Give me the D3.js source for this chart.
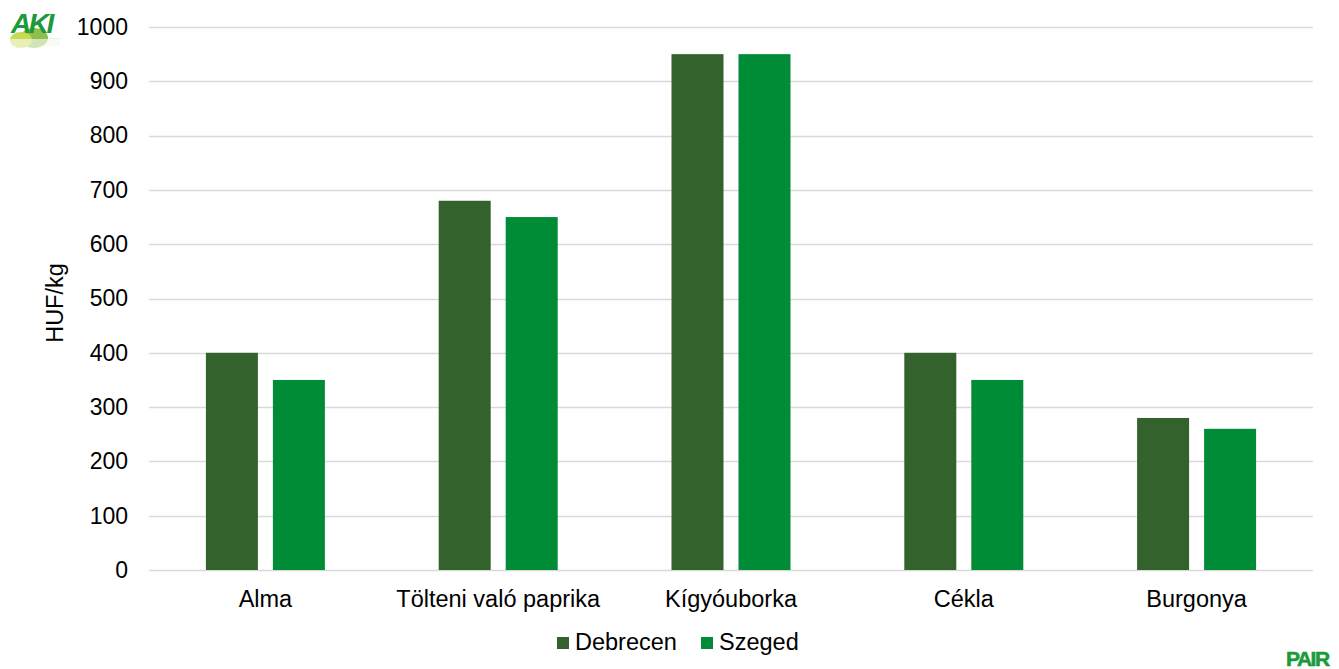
<!DOCTYPE html>
<html><head><meta charset="utf-8">
<script src="https://cdn.jsdelivr.net/npm/d3@7"></script>
<style>body{margin:0;background:#fff;} svg{display:block;font-family:"Liberation Sans",Arial,sans-serif;}</style>
</head><body>
<svg id="c" width="1339" height="669"></svg>
<script>
const categories = ["Alma","Tölteni való paprika","Kígyóuborka","Cékla","Burgonya"];
const seriesNames = ["Debrecen","Szeged"];
const debrecen = [400,680,950,400,280];
const szeged = [350,650,950,350,260];
const yTicks = [0,100,200,300,400,500,600,700,800,900,1000];
const colors = ["#34622c","#008c36"];

(function(){
const svg = d3.select("#c");
const mLeft = 149, mRight = 1313, mTop = 27, mBottom = 570;
const FS = 23.5;
const x = d3.scaleBand().domain(categories).range([mLeft,mRight]).paddingInner(0).paddingOuter(0);
const y = d3.scaleLinear().domain([0,1000]).range([mBottom,mTop]);
const barW = 52, gap = 15;

// gridlines
svg.append("g").selectAll("line").data(yTicks).join("line")
  .attr("x1",mLeft).attr("x2",mRight)
  .attr("y1",d=>Math.round(y(d))+0.5).attr("y2",d=>Math.round(y(d))+0.5)
  .attr("stroke","#d9d9d9").attr("stroke-width",1.3);

// y axis labels
const yAxis = d3.axisLeft(y).tickValues(yTicks).tickFormat(d3.format("d")).tickSize(0).tickPadding(21);
const ga = svg.append("g").attr("transform",`translate(${mLeft},0)`).call(yAxis);
ga.select(".domain").remove();
ga.selectAll("text").attr("font-size",23).attr("fill","#000").attr("font-family","Liberation Sans, Arial, sans-serif");

// bars
const data = [debrecen, szeged];
data.forEach((vals,si)=>{
  svg.append("g").selectAll("rect").data(categories).join("rect")
    .attr("x",(c)=>x(c)+x.bandwidth()/2 - (barW+gap/2) + si*(barW+gap))
    .attr("width",barW)
    .attr("y",(c,i)=>y(vals[i]))
    .attr("height",(c,i)=>y(0)-y(vals[i]))
    .attr("fill",colors[si]);
});

// x labels
const xAxis = d3.axisBottom(x).tickSize(0).tickPadding(20);
const gx = svg.append("g").attr("transform",`translate(0,${mBottom})`).call(xAxis);
gx.select(".domain").remove();
gx.selectAll("text").attr("font-size",FS).attr("fill","#000").attr("font-family","Liberation Sans, Arial, sans-serif");

// y title
svg.append("text").attr("transform","translate(63,303) rotate(-90)")
  .attr("text-anchor","middle").attr("font-size",FS).attr("fill","#000").text("HUF/kg");

// legend
const legX = [557, 701];
seriesNames.forEach((n,i)=>{
  svg.append("rect").attr("x",legX[i]).attr("y",637).attr("width",12).attr("height",12).attr("fill",colors[i]);
  svg.append("text").attr("x",legX[i]+18).attr("y",650).attr("font-size",FS).attr("fill","#000").text(n);
});

// AKI logo
const logo = svg.append("g");
logo.append("rect").attr("x",10).attr("y",38).attr("width",50).attr("height",8).attr("fill","#eef4e4");
logo.append("ellipse").attr("cx",34).attr("cy",38).attr("rx",14).attr("ry",10).attr("fill","#8fbf4a");
logo.append("ellipse").attr("cx",21).attr("cy",40).attr("rx",11).attr("ry",8).attr("fill","#c6da52");
logo.append("rect").attr("x",8).attr("y",39).attr("width",60).attr("height",10).attr("fill","#ffffff").attr("opacity",0.6);
logo.append("text").attr("x",11).attr("y",33).attr("font-size",28).attr("font-weight","bold")
  .attr("font-style","italic").attr("fill","#1a9a3a").attr("letter-spacing",-2.5).text("AKI");

// PAIR
svg.append("text").attr("x",1286).attr("y",666).attr("font-size",21).attr("font-weight","bold")
  .attr("fill","#1a9a3a").attr("letter-spacing",-1.5).attr("stroke","#1a9a3a").attr("stroke-width",0.6).text("PAIR");
})();
</script>
</body></html>
